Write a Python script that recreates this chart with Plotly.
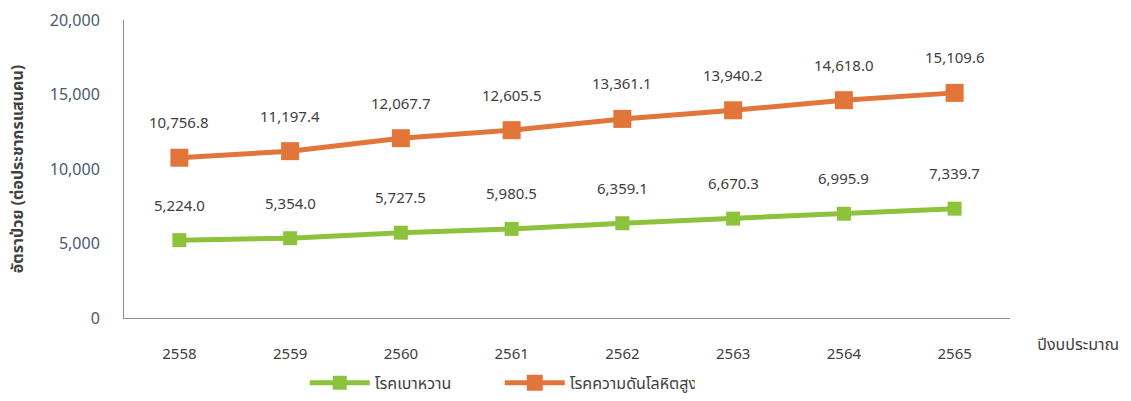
import plotly.graph_objects as go

years = ["2558", "2559", "2560", "2561", "2562", "2563", "2564", "2565"]
diabetes = [5224.0, 5354.0, 5727.5, 5980.5, 6359.1, 6670.3, 6995.9, 7339.7]
hypertension = [10756.8, 11197.4, 12067.7, 12605.5, 13361.1, 13940.2, 14618.0, 15109.6]
y_ticks = [0, 5000, 10000, 15000, 20000]

GREEN = "#8DC33C"
ORANGE = "#E2753A"
TXT = "#404040"
FONT = "Tahoma, 'Noto Sans Thai', 'Noto Sans', sans-serif"

fig = go.Figure()
fig.add_trace(go.Scatter(x=years, y=diabetes, name="โรคเบาหวาน", mode="lines+markers",
                         line=dict(color=GREEN, width=5),
                         marker=dict(symbol="square", size=14, color=GREEN)))
fig.add_trace(go.Scatter(x=years, y=hypertension, name="โรคความดันโลหิตสูง", mode="lines+markers",
                         line=dict(color=ORANGE, width=5),
                         marker=dict(symbol="square", size=18, color=ORANGE)))

annotations = []
for series in (diabetes, hypertension):
    for i, v in enumerate(series):
        annotations.append(dict(x=i, y=v, xref="x", yref="y", text=f"{v:,.1f}",
                                showarrow=False, yshift=34,
                                font=dict(size=15, color=TXT, family=FONT)))
annotations.append(dict(x=1.028, y=-0.09, xref="paper", yref="paper", text="ปีงบประมาณ",
                        xanchor="left", yanchor="middle",
                        showarrow=False, font=dict(size=16, color=TXT, family=FONT)))

fig.update_layout(
    width=1131, height=401,
    margin=dict(l=124, r=121, t=20, b=83, autoexpand=False),
    paper_bgcolor="white", plot_bgcolor="white",
    font=dict(family=FONT, size=15, color=TXT),
    annotations=annotations,
    showlegend=True,
    legend=dict(orientation="h", x=0.204, xanchor="left", y=-0.218, yanchor="middle",
                font=dict(size=16, color=TXT), itemwidth=60, entrywidth=120),
    xaxis=dict(type="category", range=[-0.5, 7.5], showgrid=False, showline=True,
               linecolor="#8C8C8C", linewidth=1, ticks="", ticklabelstandoff=22,
               tickfont=dict(size=15, color=TXT)),
    yaxis=dict(range=[0, 20000], tickvals=y_ticks, tickformat=",d", showgrid=False,
               showline=True, linecolor="#8C8C8C", linewidth=1, ticks="",
               ticklabelstandoff=20, zeroline=False,
               tickfont=dict(size=16, color="#4A5A70"),
               title=dict(text="<b>อัตราป่วย (ต่อประชากรแสนคน)</b>", standoff=22,
                          font=dict(size=16, color=TXT, family=FONT))),
)

fig.write_html("out.html")
